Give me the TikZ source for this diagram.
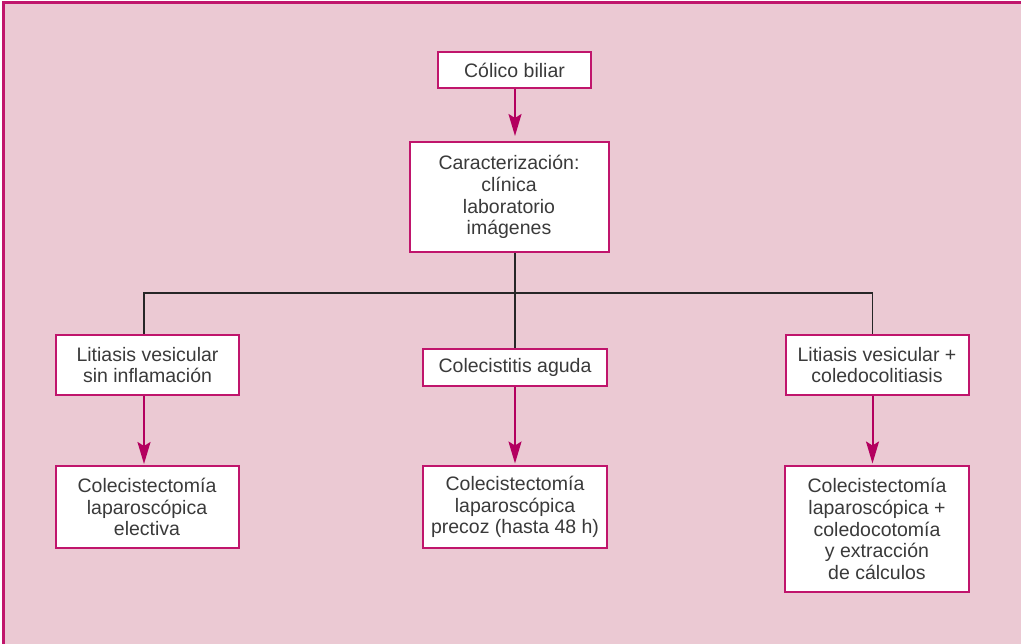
\documentclass[tikz,border=0pt]{standalone}
\usepackage{fontspec}
\setmainfont{Liberation Sans}
\usetikzlibrary{arrows.meta}
\definecolor{panel}{HTML}{EBC9D3}
\definecolor{rim}{HTML}{C0156C}
\definecolor{ink}{HTML}{3A3A3A}
\definecolor{flow}{HTML}{B3005F}
\begin{document}
\begin{tikzpicture}[x=1pt,y=-1pt,
  box/.style={draw=rim,line width=2pt,fill=white,text=ink,align=center,
    inner sep=0pt,font=\fontsize{19.5}{21.7}\selectfont},
  link/.style={draw=black!85,line width=1.4pt},
  flowarrow/.style={draw=flow,line width=2pt,
    -{Stealth[length=22pt,width=13pt,inset=4pt]},shorten >=1.5pt}]
  % canvas and panel
  \useasboundingbox (0,0) rectangle (1021,644);
  \fill[white] (0,0) rectangle (1021,644);
  \fill[panel] (3.5,2.5) rectangle (1021,644);
  \draw[rim,line width=2.5pt] (3.5,644) -- (3.5,2.5) -- (1021,2.5);

  % boxes
  \node[box,minimum width=153pt,minimum height=36pt] (colico) at (514.5,70) {Cólico biliar};
  \node[box,minimum width=199pt,minimum height=110pt] (caract) at (509,197)
    {Caracterización:\\clínica\\laboratorio\\imágenes};
  \node[box,minimum width=183pt,minimum height=60pt] (lit) at (147.5,365)
    {Litiasis vesicular\\sin inflamación};
  \node[box,minimum width=184pt,minimum height=37pt] (cole) at (515,367.5)
    {Colecistitis aguda};
  \node[box,minimum width=183pt,minimum height=60pt] (litcol) at (877,365)
    {Litiasis vesicular +\\coledocolitiasis};
  \node[box,minimum width=183pt,minimum height=81pt] (ce1) at (147,507)
    {Colecistectomía\\laparoscópica\\electiva};
  \node[box,minimum width=184pt,minimum height=82pt] (ce2) at (515,507)
    {Colecistectomía\\laparoscópica\\precoz (hasta 48 h)};
  \node[box,minimum width=184pt,minimum height=126pt] (ce3) at (877,529)
    {Colecistectomía\\laparoscópica +\\coledocotomía\\y extracción\\de cálculos};

  % branching bar
  \coordinate (bl) at (144,293);
  \coordinate (br) at (872.5,293);
  \draw[link] (caract.south -| cole.north) -- (cole.north);
  \draw[link] (bl |- lit.north) -- (bl) -- (br) -- (br |- litcol.north);

  % arrows
  \draw[flowarrow,shorten >=5pt] (colico.south -| cole.north) -- (caract.north -| cole.north);
  \draw[flowarrow] (lit.south -| bl) -- (ce1.north -| bl);
  \draw[flowarrow] (cole.south) -- (ce2.north -| cole.south);
  \draw[flowarrow] (litcol.south -| br) -- (ce3.north -| br);
\end{tikzpicture}
\end{document}
